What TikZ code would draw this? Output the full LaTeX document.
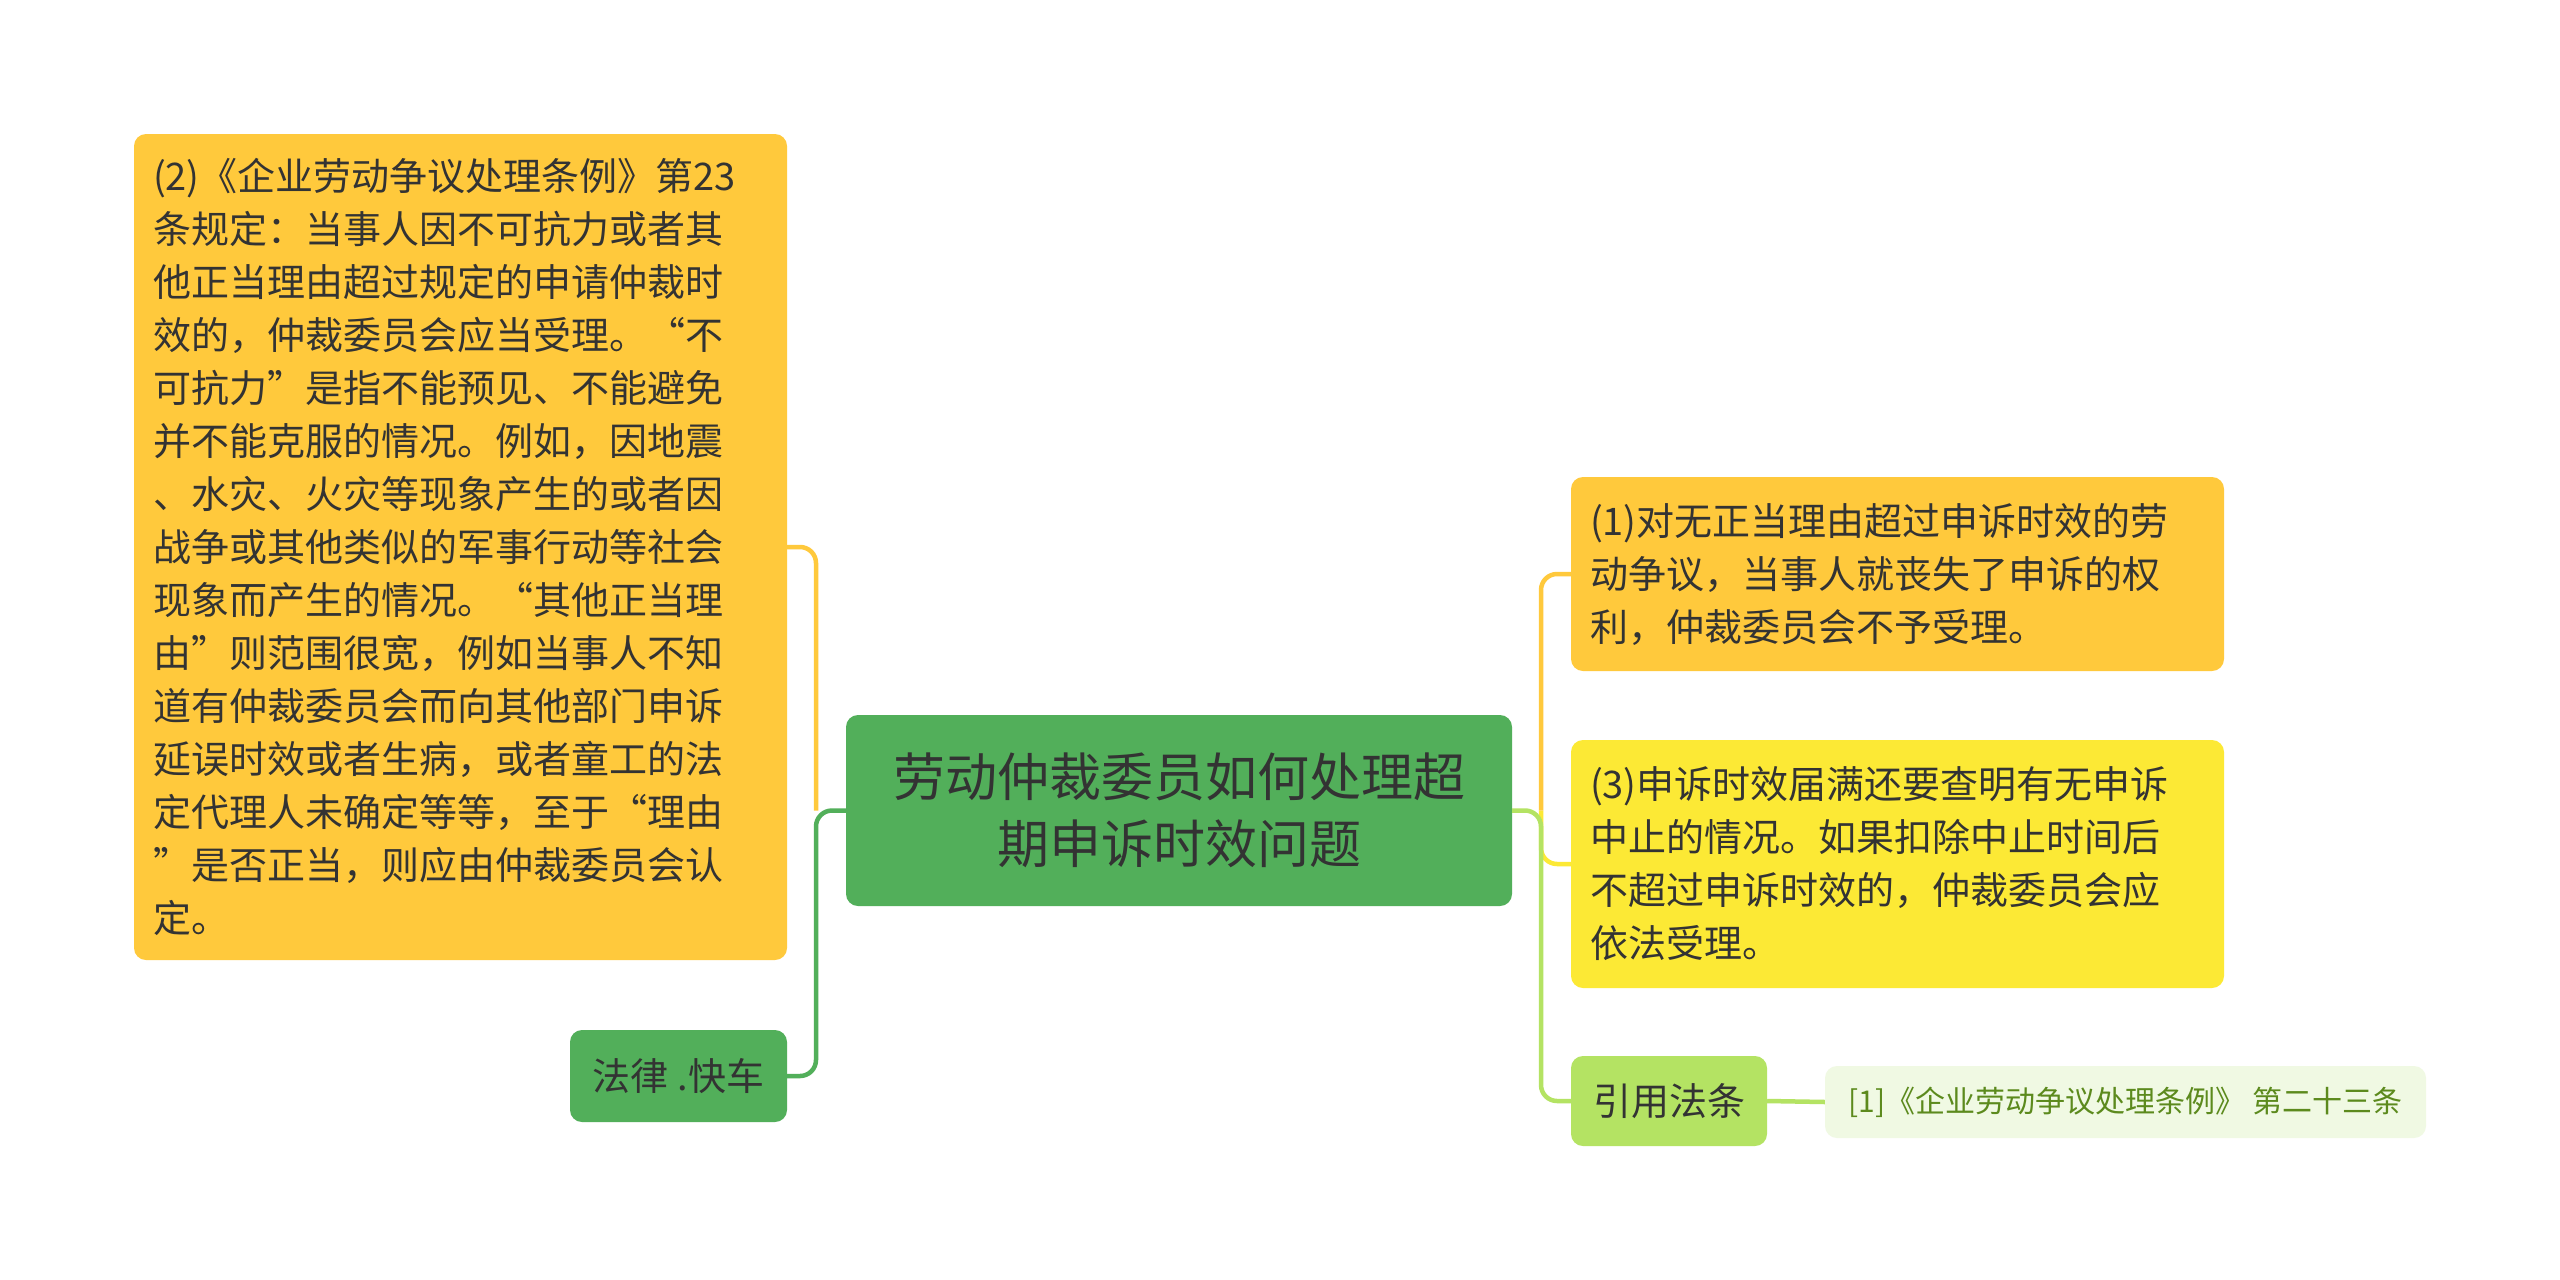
\documentclass[tikz,border=0pt]{standalone}
\usepackage{fontspec}
\setmainfont{Noto Sans CJK SC}
\definecolor{cOrange}{HTML}{FFC93C}
\definecolor{cYellow}{HTML}{FCE935}
\definecolor{cLime}{HTML}{B4E363}
\definecolor{cGreen}{HTML}{52AF5A}
\definecolor{cCiteBg}{HTML}{F0F9E3}
\definecolor{cCiteText}{HTML}{5C8A1D}
\definecolor{cText}{HTML}{333333}
\begin{document}
\begin{tikzpicture}[x=1pt,y=-1pt,
  box/.style={rectangle, rounded corners=12pt, inner sep=0pt, text=cText, anchor=center},
  body/.style={box, font=\fontsize{38pt}{53pt}\selectfont, align=left},
  conn/.style={line width=4.5pt, rounded corners=16pt}]
\useasboundingbox (0,0) rectangle (2560,1280);
\fill[white] (0,0) rectangle (2560,1280);

% nodes
\node[body, fill=cOrange, minimum width=653pt, minimum height=826pt, text width=615pt] (big) at (460.5,547) {(2)《企业劳动争议处理条例》第23\\条规定：当事人因不可抗力或者其\\他正当理由超过规定的申请仲裁时\\效的，仲裁委员会应当受理。“不\\可抗力”是指不能预见、不能避免\\并不能克服的情况。例如，因地震\\、水灾、火灾等现象产生的或者因\\战争或其他类似的军事行动等社会\\现象而产生的情况。“其他正当理\\由”则范围很宽，例如当事人不知\\道有仲裁委员会而向其他部门申诉\\延误时效或者生病，或者童工的法\\定代理人未确定等等，至于“理由\\”是否正当，则应由仲裁委员会认\\定。};
\node[box, fill=cGreen, minimum width=217pt, minimum height=92pt, font=\fontsize{38pt}{53pt}\selectfont] (law) at (678.5,1076) {法律 .快车};
\node[box, fill=cGreen, minimum width=666pt, minimum height=191pt, align=center, font=\fontsize{52pt}{67pt}\selectfont] (center) at (1179,810.5) {劳动仲裁委员如何处理超\\期申诉时效问题};
\node[body, fill=cOrange, minimum width=653pt, minimum height=194pt, text width=615pt] (b1) at (1897.5,574) {(1)对无正当理由超过申诉时效的劳\\动争议，当事人就丧失了申诉的权\\利，仲裁委员会不予受理。};
\node[body, fill=cYellow, minimum width=653pt, minimum height=248pt, text width=615pt] (b3) at (1897.5,864) {(3)申诉时效届满还要查明有无申诉\\中止的情况。如果扣除中止时间后\\不超过申诉时效的，仲裁委员会应\\依法受理。};
\node[box, fill=cLime, minimum width=196pt, minimum height=90pt, font=\fontsize{38pt}{53pt}\selectfont] (law2) at (1669,1101) {引用法条};
\node[box, fill=cCiteBg, text=cCiteText, minimum width=601pt, minimum height=72pt, font=\fontsize{30pt}{40pt}\selectfont] (cite) at (2125.5,1102) {[1]《企业劳动争议处理条例》 第二十三条};

% spines
\coordinate (lspine) at (816,810.5);
\coordinate (rspine) at (1541,810.5);

% left connectors
\draw[conn, cOrange] (big.east) -| (lspine);
\draw[conn, cGreen] (center.west) -- (lspine) |- (law.east);

% right connectors
\draw[conn, cOrange] (rspine) |- (b1.west);
\draw[conn, cYellow] (rspine) |- (b3.west);
\draw[conn, cLime] (center.east) -- (rspine) |- (law2.west);
\draw[line width=4.5pt, cLime] (law2.east) -- (cite.west);
\end{tikzpicture}
\end{document}
